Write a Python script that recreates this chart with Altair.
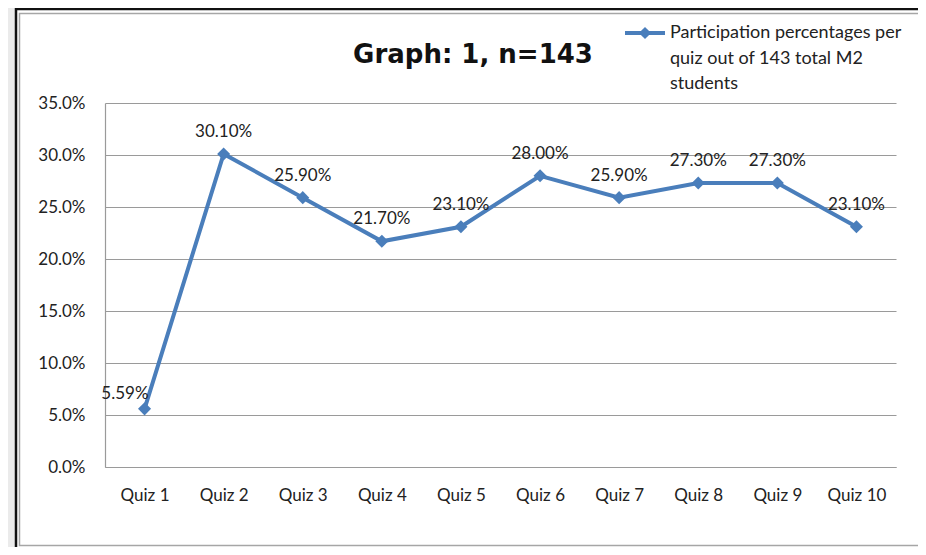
import altair as alt
import pandas as pd

quizzes = ["Quiz 1", "Quiz 2", "Quiz 3", "Quiz 4", "Quiz 5",
           "Quiz 6", "Quiz 7", "Quiz 8", "Quiz 9", "Quiz 10"]
participation = [0.0559, 0.301, 0.259, 0.217, 0.231,
                 0.280, 0.259, 0.273, 0.273, 0.231]
y_ticks = [0.0, 0.05, 0.10, 0.15, 0.20, 0.25, 0.30, 0.35]
title_text = "Graph: 1, n=143"
legend_text = "Participation percentages per\nquiz out of 143 total M2\nstudents"

df = pd.DataFrame({"quiz": quizzes, "pct": participation})

FONT = "Lato"
BLUE = "#4a7ebb"
TXT = "#222222"
W, H = 791, 364

one = alt.Data(values=[{}])

x_enc = alt.X("quiz:N", sort=quizzes,
              scale=alt.Scale(type="point", padding=0.5),
              axis=alt.Axis(title=None, labelAngle=0, labelFontSize=17, labelFont=FONT,
                            labelColor=TXT, labelPadding=20, tickSize=0, domain=True,
                            domainColor="#9a9a9a", domainWidth=1.2, grid=False))
y_enc = alt.Y("pct:Q", scale=alt.Scale(domain=[0, 0.35], nice=False),
              axis=alt.Axis(title=None, values=y_ticks, format=".1%", labelFontSize=17,
                            labelFont=FONT, labelColor=TXT, labelPadding=20, tickSize=0,
                            domain=True, domainColor="#9a9a9a", domainWidth=1.2,
                            grid=True, gridColor="#9a9a9a", gridWidth=1.2))

# frame decorations (pixel positions relative to plot origin)
gray_strip = alt.Chart(one).mark_rect(fill="#ebebeb").encode(
    x=alt.value(-97), x2=alt.value(-89), y=alt.value(-95), y2=alt.value(444))
frame_outer = alt.Chart(one).mark_rect(fill="transparent", stroke="#111111", strokeWidth=2.5).encode(
    x=alt.value(-89), x2=alt.value(840), y=alt.value(-94), y2=alt.value(470))
frame_inner = alt.Chart(one).mark_rect(fill="transparent", stroke="#a6a6a6", strokeWidth=1.5).encode(
    x=alt.value(-85.5), x2=alt.value(820), y=alt.value(-89.5), y2=alt.value(442.5))

base = alt.Chart(df)
line = base.mark_line(color=BLUE, strokeWidth=4).encode(x=x_enc, y=y_enc)
pts = base.mark_point(shape="diamond", filled=True, color=BLUE, size=170, opacity=1).encode(
    x=alt.X("quiz:N", sort=quizzes), y="pct:Q")
labels = base.transform_filter(alt.datum.quiz != "Quiz 1").mark_text(
    fontSize=17, font=FONT, color=TXT, dy=-22, baseline="middle").encode(
    x=alt.X("quiz:N", sort=quizzes), y="pct:Q", text=alt.Text("pct:Q", format=".2%"))
label1 = base.transform_filter(alt.datum.quiz == "Quiz 1").mark_text(
    fontSize=17, font=FONT, color=TXT, dx=4, dy=-15, align="right", baseline="middle").encode(
    x=alt.X("quiz:N", sort=quizzes), y="pct:Q", text=alt.Text("pct:Q", format=".2%"))

title = alt.Chart(one).mark_text(fontSize=26, fontWeight="bold", font="DejaVu Sans", color="#111111",
                                 align="center", baseline="middle").encode(
    x=alt.value(368), y=alt.value(-48), text=alt.value(title_text))

leg_line = alt.Chart(one).mark_rule(color=BLUE, strokeWidth=4).encode(
    x=alt.value(520), x2=alt.value(560), y=alt.value(-70))
leg_pt = alt.Chart(one).mark_point(shape="diamond", filled=True, color=BLUE, size=150, opacity=1).encode(
    x=alt.value(540), y=alt.value(-70))
leg_txt = alt.Chart(one).mark_text(fontSize=18, font=FONT, color=TXT, align="left", baseline="middle",
                                   lineBreak="\n", lineHeight=25.5).encode(
    x=alt.value(565), y=alt.value(-70), text=alt.value(legend_text))

chart = alt.layer(line, gray_strip, frame_outer, frame_inner, pts, labels, label1, title,
                  leg_line, leg_pt, leg_txt).properties(
    width=W, height=H,
    autosize=alt.AutoSizeParams(type="none"),
    padding={"left": 97, "top": 95, "right": 22, "bottom": 80},
    background="white",
).configure_view(stroke=None, clip=False)

chart.save("out.html", embed_options={"renderer": "svg", "actions": False})
